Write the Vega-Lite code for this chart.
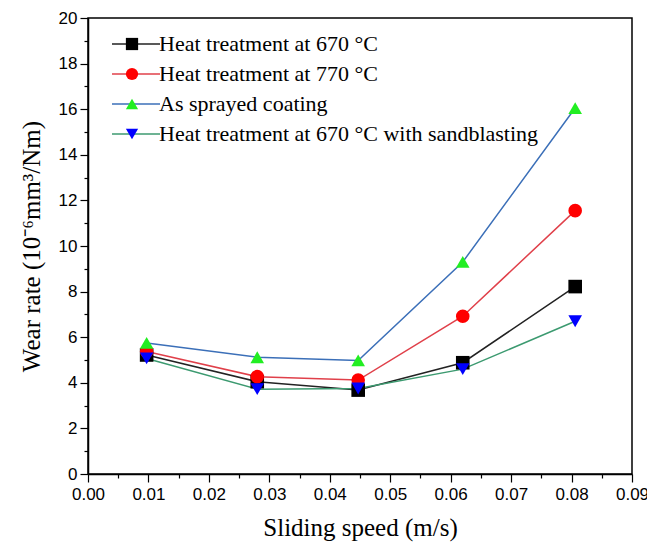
{
  "$schema": "https://vega.github.io/schema/vega-lite/v6.json",
  "autosize": {"type": "none"},
  "width": 544,
  "height": 456,
  "padding": {"left": 88, "top": 18, "right": 15, "bottom": 72},
  "background": "white",
  "config": {
    "view": {"stroke": "black", "strokeWidth": 1.5},
    "axis": {
      "domainColor": "black", "domainWidth": 1.5, "tickColor": "black", "tickWidth": 1.2,
      "labelFont": "Liberation Sans", "labelFontSize": 17, "labelColor": "black",
      "titleFont": "Liberation Serif", "titleFontSize": 25, "titleFontWeight": "normal", "titleColor": "black",
      "grid": false
    },
    "legend": {
      "labelFont": "Liberation Serif", "labelFontSize": 22, "labelColor": "black", "labelLimit": 0
    }
  },
  "data": {
    "values": [
      {"series": "Heat treatment at 670 °C", "speed": 0.0097, "rate": 5.22},
      {"series": "Heat treatment at 670 °C", "speed": 0.028, "rate": 4.05},
      {"series": "Heat treatment at 670 °C", "speed": 0.0447, "rate": 3.68},
      {"series": "Heat treatment at 670 °C", "speed": 0.062, "rate": 4.88},
      {"series": "Heat treatment at 670 °C", "speed": 0.0806, "rate": 8.22},
      {"series": "Heat treatment at 770 °C", "speed": 0.0097, "rate": 5.37},
      {"series": "Heat treatment at 770 °C", "speed": 0.028, "rate": 4.27},
      {"series": "Heat treatment at 770 °C", "speed": 0.0447, "rate": 4.12},
      {"series": "Heat treatment at 770 °C", "speed": 0.062, "rate": 6.92},
      {"series": "Heat treatment at 770 °C", "speed": 0.0806, "rate": 11.55},
      {"series": "As sprayed coating", "speed": 0.0097, "rate": 5.75},
      {"series": "As sprayed coating", "speed": 0.028, "rate": 5.12},
      {"series": "As sprayed coating", "speed": 0.0447, "rate": 4.98},
      {"series": "As sprayed coating", "speed": 0.062, "rate": 9.3},
      {"series": "As sprayed coating", "speed": 0.0806, "rate": 16.05},
      {"series": "Heat treatment at 670 °C with sandblasting", "speed": 0.0097, "rate": 5.07},
      {"series": "Heat treatment at 670 °C with sandblasting", "speed": 0.028, "rate": 3.72},
      {"series": "Heat treatment at 670 °C with sandblasting", "speed": 0.0447, "rate": 3.75},
      {"series": "Heat treatment at 670 °C with sandblasting", "speed": 0.062, "rate": 4.6},
      {"series": "Heat treatment at 670 °C with sandblasting", "speed": 0.0806, "rate": 6.7}
    ]
  },
  "encoding": {
    "x": {
      "field": "speed", "type": "quantitative",
      "scale": {"domain": [0, 0.09], "nice": false, "zero": false},
      "axis": {
        "title": "Sliding speed (m/s)",
        "values": [0, 0.005, 0.01, 0.015, 0.02, 0.025, 0.03, 0.035, 0.04, 0.045, 0.05, 0.055, 0.06, 0.065, 0.07, 0.075, 0.08, 0.085, 0.09],
        "labelExpr": "round(datum.value*1000) % 10 == 5 ? '' : format(datum.value, '.2f')",
        "tickSize": {"condition": {"test": "round(datum.value*1000) % 10 == 5", "value": 4}, "value": 8},
        "labelPadding": 4, "titlePadding": 13, "labelFlush": false
      }
    },
    "y": {
      "field": "rate", "type": "quantitative",
      "scale": {"domain": [0, 20], "nice": false},
      "axis": {
        "title": "Wear rate (10⁻⁶mm³/Nm)",
        "values": [0, 1, 2, 3, 4, 5, 6, 7, 8, 9, 10, 11, 12, 13, 14, 15, 16, 17, 18, 19, 20],
        "labelExpr": "datum.value % 2 == 1 ? '' : datum.label",
        "tickSize": {"condition": {"test": "datum.value % 2 == 1", "value": 4}, "value": 8},
        "labelPadding": 3, "titlePadding": 14
      }
    }
  },
  "layer": [
    {
      "mark": {"type": "line", "strokeWidth": 1.5},
      "encoding": {
        "stroke": {
          "field": "series", "type": "nominal",
          "scale": {"range": ["#3b6fb8", "#222222", "#3c9a70", "#e0404a"]},
          "legend": {
            "title": null, "orient": "none", "legendX": 20, "legendY": 15, "zindex": 0,
            "values": ["Heat treatment at 670 °C", "Heat treatment at 770 °C", "As sprayed coating", "Heat treatment at 670 °C with sandblasting"],
            "padding": 0, "rowPadding": 8, "clipHeight": 22,
            "symbolType": "stroke", "symbolSize": 2304, "symbolStrokeWidth": 1.5,
            "symbolOffset": 3, "labelOffset": -2
          }
        }
      }
    },
    {
      "mark": {"type": "point", "filled": true, "size": 185, "opacity": 1},
      "encoding": {
        "fill": {
          "field": "series", "type": "nominal",
          "scale": {
            "domain": ["Heat treatment at 670 °C", "Heat treatment at 770 °C", "As sprayed coating", "Heat treatment at 670 °C with sandblasting"],
            "range": ["#000000", "#ff0000", "#22ee22", "#0000ff"]
          },
          "legend": {
            "title": null, "orient": "none", "legendX": 20, "legendY": 15, "zindex": 1,
            "padding": 0, "rowPadding": 8, "clipHeight": 22,
            "symbolSize": 150, "symbolOffset": 13, "labelExpr": "''"
          }
        },
        "shape": {
          "field": "series", "type": "nominal",
          "scale": {
            "domain": ["Heat treatment at 670 °C", "Heat treatment at 770 °C", "As sprayed coating", "Heat treatment at 670 °C with sandblasting"],
            "range": ["square", "circle", "triangle-up", "triangle-down"]
          },
          "legend": {
            "title": null, "orient": "none", "legendX": 20, "legendY": 15, "zindex": 1,
            "padding": 0, "rowPadding": 8, "clipHeight": 22,
            "symbolSize": 150, "symbolOffset": 13, "labelExpr": "''"
          }
        }
      }
    }
  ]
}
